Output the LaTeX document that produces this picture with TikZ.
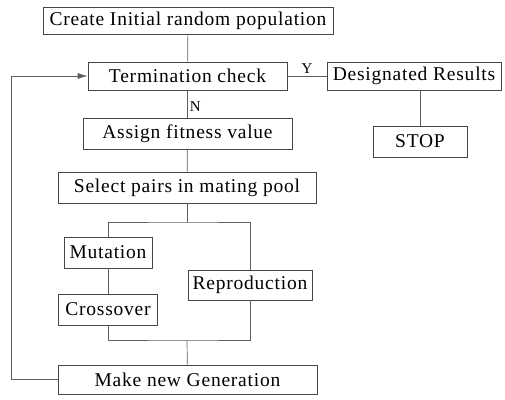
\documentclass[tikz,border=0pt]{standalone}
\usepackage{fontspec}
\setmainfont{Liberation Serif}[LetterSpace=4]
\usetikzlibrary{arrows.meta,positioning,calc}
\definecolor{scanline}{RGB}{95,95,95}
\definecolor{scanbox}{RGB}{70,70,70}

\tikzset{
  gabox/.style={draw=scanbox,line width=0.7pt,inner sep=0pt,
    font=\fontsize{19.5}{22}\selectfont},
  galink/.style={draw=scanline,line width=0.7pt},
  galabel/.style={font=\fontsize{15}{17}\selectfont,inner sep=2pt}
}

\begin{document}
\begin{tikzpicture}[x=1pt,y=-1pt]
        \useasboundingbox (0,0) rectangle (505,399);
        % Boxes
        \node[gabox,minimum width=290pt,minimum height=27pt] (create) at (188,21) {Create Initial random population};
        \node[gabox,minimum width=199pt,minimum height=28pt] (term) at (187.5,76) {Termination check};
        \node[gabox,minimum width=174pt,minimum height=28pt] (desig) at (414,76) {Designated Results};
        \node[gabox,minimum width=94pt,minimum height=31pt] (stop) at (420,141.5) {STOP};
        \node[gabox,minimum width=209pt,minimum height=31pt] (assign) at (187.5,133.5) {Assign fitness value};
        \node[gabox,minimum width=258pt,minimum height=31pt] (select) at (187,187.5) {Select pairs in mating pool};
        \node[gabox,minimum width=88pt,minimum height=31pt] (mut) at (108,252.5) {Mutation};
        \node[gabox,minimum width=124pt,minimum height=30pt] (repro) at (250,285) {Reproduction};
        \node[gabox,minimum width=99pt,minimum height=31pt] (cross) at (108,309.5) {Crossover};
        \node[gabox,minimum width=259pt,minimum height=29pt] (make) at (187.5,379.5) {Make new Generation};
        % Branch points
        \coordinate (split) at (187,222);
        \coordinate (join) at (187,340);
        \coordinate (back) at (11,379.5);
        % Links
        \draw[galink] (create) -- (term);
        \draw[galink] (term) -- node[galabel,above] {Y} (desig);
        \draw[galink] (desig.south -| stop.north) -- (stop);
        \draw[galink] (term) -- node[galabel,right,pos=0.6] {N} (assign);
        \draw[galink] (assign) -- (select);
        \draw[galink] (select) -- (split);
        \draw[galink] (mut.north) |- (split) -| (repro.north);
        \draw[galink] (mut) -- (cross);
        \draw[galink] (cross.south) |- (join) -| (repro.south);
        \draw[galink] (join) -- (make);
        % Feedback loop
        \draw[galink,-{Latex[length=10pt,width=6pt]}] (make.west) -- (back) |- (term.west);
      \end{tikzpicture}
\end{document}
